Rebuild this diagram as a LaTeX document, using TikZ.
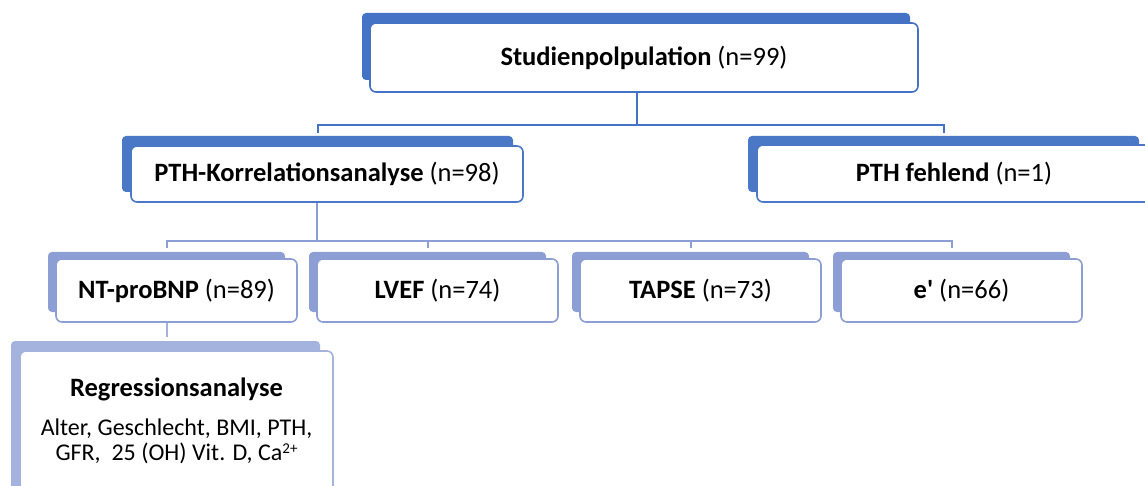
\documentclass[tikz,border=0pt]{standalone}
\usepackage{fontspec}
\setmainfont{Carlito}
\definecolor{cone}{HTML}{4472C4}
\definecolor{ctwo}{HTML}{4A78C6}
\definecolor{cthree}{HTML}{8C9ED3}
\definecolor{cfour}{HTML}{A4B3DE}
\tikzset{
  backbox/.style={draw=none,fill=#1,rounded corners=4pt,inner sep=0pt},
  frontbox/.style={draw=#1,fill=white,line width=1.6pt,rounded corners=6pt,inner sep=0pt,font=\fontsize{26.5}{31}\selectfont},
  conn/.style={draw=#1,line width=2pt},
  regline/.style={anchor=base,inner sep=0pt,font=\fontsize{24}{25}\selectfont},
}
\begin{document}
\begin{tikzpicture}[x=1pt,y=-1pt]
\useasboundingbox (0,0) rectangle (1145,486);
% level 1
\node[backbox=cone,minimum width=548pt,minimum height=67pt] (topback) at (636,46.5) {};
\node[frontbox=cone,minimum width=548pt,minimum height=69pt] (top) at (644,57.5) {\textbf{Studienpolpulation} (n=99)};
% level 2
\node[backbox=ctwo,minimum width=391pt,minimum height=56pt] (korrback) at (317.5,164) {};
\node[frontbox=ctwo,minimum width=392pt,minimum height=56pt] (korr) at (327,174) {\textbf{PTH-Korrelationsanalyse} (n=98)};
\node[backbox=ctwo,minimum width=391pt,minimum height=56pt] (fehlback) at (943.5,164) {};
\node[frontbox=ctwo,minimum width=394pt,minimum height=57pt] (fehl) at (954,173.5) {\textbf{PTH fehlend} (n=1)};
% level 3
\node[backbox=cthree,minimum width=237pt,minimum height=60pt] (ntback) at (166.5,282) {};
\node[frontbox=cthree,minimum width=241pt,minimum height=63pt] (nt) at (176.5,290.5) {\textbf{NT-proBNP} (n=89)};
\node[backbox=cthree,minimum width=237pt,minimum height=60pt] (lvback) at (427.5,282) {};
\node[frontbox=cthree,minimum width=241pt,minimum height=63pt] (lv) at (437.5,290.5) {\textbf{LVEF} (n=74)};
\node[backbox=cthree,minimum width=237pt,minimum height=60pt] (taback) at (690.5,282) {};
\node[frontbox=cthree,minimum width=241pt,minimum height=63pt] (ta) at (700.5,290.5) {\textbf{TAPSE} (n=73)};
\node[backbox=cthree,minimum width=237pt,minimum height=60pt] (eback) at (951.5,282) {};
\node[frontbox=cthree,minimum width=241pt,minimum height=63pt] (ep) at (961.5,290.5) {\textbf{e\textquotesingle} (n=66)};
% level 4
\node[backbox=cfour,minimum width=309pt,minimum height=159pt] (regback) at (165.5,420.5) {};
\node[frontbox=cfour,minimum width=313pt,minimum height=159pt] (reg) at (176.5,430.5) {};
\node[regline,font=\fontsize{26.5}{31}\selectfont\bfseries] (regtitle) at (176.5,396.7) {Regressionsanalyse};
\node[regline,align=center] (regvars) at (176.5,460) {Alter, Geschlecht, BMI, PTH,\\GFR,\ \ 25 (OH) Vit. D, Ca\raisebox{6.5pt}{\fontsize{15}{15}\selectfont 2+}};
% connectors
\coordinate (j1) at (637,125);
\draw[conn=cone] (top.south -| j1) -- (j1);
\draw[conn=cone] ([yshift=3pt]korrback.north) |- (j1) -| ([yshift=3pt]fehlback.north);
\coordinate (j2) at (317,241);
\draw[conn=cthree] (korr.south -| j2) -- (j2);
\draw[conn=cthree] ([yshift=4pt]ntback.north) |- (j2) -| ([yshift=4pt]eback.north);
\draw[conn=cthree] ([yshift=4pt]lvback.north) -- (lvback.north |- j2);
\draw[conn=cthree] ([yshift=4pt]taback.north) -- (taback.north |- j2);
\draw[conn=cfour] (nt.south -| ntback) -- ([yshift=4pt]regback.north -| ntback);
\end{tikzpicture}
\end{document}
